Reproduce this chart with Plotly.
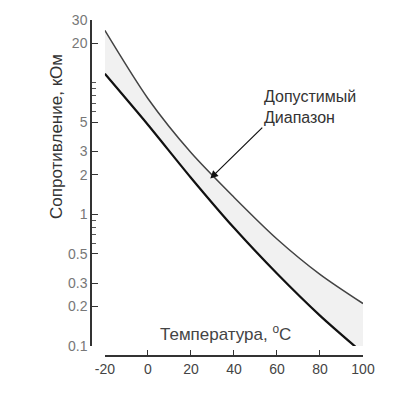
import numpy as np
import plotly.graph_objects as go

temps = [-20, 0, 20, 40, 60, 80, 100]
upper_kohm = [25, 7.6, 2.95, 1.35, 0.65, 0.35, 0.21]
lower_kohm = [11.7, 4.8, 1.9, 0.79, 0.355, 0.17, 0.088]

x_ticks = [-20, 0, 20, 40, 60, 80, 100]
x_ticktext = ["-20", "0", "20", "40", "60", "80", "100"]
y_ticks = [0.1, 0.2, 0.3, 0.5, 1, 2, 3, 5, 20, 30]
y_ticktext = ["0.1", "0.2", "0.3", "0.5", "1", "2", "3", "5", "20", "30"]
y_minor = [0.6, 0.7, 0.8, 0.9, 6, 7, 8, 9, 10]

arrow_T, arrow_R = 29, 1.87

font = "Liberation Sans, Arial, sans-serif"

fig = go.Figure()
fig.add_trace(go.Scatter(x=temps, y=lower_kohm, mode="lines",
                         line=dict(color="#111111", width=2.2, shape="spline", smoothing=0.8),
                         showlegend=False, hoverinfo="skip"))
fig.add_trace(go.Scatter(x=temps, y=upper_kohm, mode="lines",
                         line=dict(color="#444444", width=1.5, shape="spline", smoothing=0.8),
                         fill="tonexty", fillcolor="rgba(215,215,215,0.35)", showlegend=False, hoverinfo="skip"))

fig.update_layout(
    width=400, height=394,
    margin=dict(l=83, r=45, t=12, b=46),
    paper_bgcolor="white", plot_bgcolor="white",
    font=dict(family=font, color="#333333"),
    xaxis=dict(range=[-20, 100], domain=[0.051, 1], anchor="free", position=0, automargin=False,
               tickvals=x_ticks, ticktext=x_ticktext, ticks="inside", ticklen=5,
               tickcolor="#333", showline=True, linecolor="#333", linewidth=1.5,
               showgrid=False, zeroline=False, tickfont=dict(size=14, color="#444")),
    yaxis=dict(type="log", range=[np.log10(0.1), np.log10(30)], domain=[0.03, 1], anchor="free", position=0,
               automargin=False,
               tickvals=y_ticks, ticktext=y_ticktext, ticks="inside", ticklen=6,
               tickcolor="#333", showline=True, linecolor="#333", linewidth=1.5,
               showgrid=False, zeroline=False, tickfont=dict(size=14, color="#777"),
               minor=dict(tickvals=y_minor, ticks="inside", ticklen=4, tickcolor="#555", showgrid=False)),
)

fig.add_annotation(xref="paper", yref="paper", x=0.494, y=0.068, text="Температура, <sup>o</sup>C",
                   showarrow=False, font=dict(size=17, color="#444"), xanchor="center", yanchor="middle")
fig.add_annotation(xref="paper", yref="paper", x=-0.125, y=0.652, text="Сопротивление, кОм", textangle=-90,
                   showarrow=False, font=dict(size=17, color="#333"), xanchor="center", yanchor="middle")
fig.add_annotation(x=arrow_T, y=np.log10(arrow_R), xref="x", yref="y", text="Допустимый<br>Диапазон",
                   showarrow=True, arrowhead=2, arrowsize=1.3, arrowwidth=1.2, arrowcolor="#111",
                   ax=52, ay=-51, xanchor="left", yanchor="bottom", align="left",
                   font=dict(size=16, color="#333"))

fig.write_html("out.html")
